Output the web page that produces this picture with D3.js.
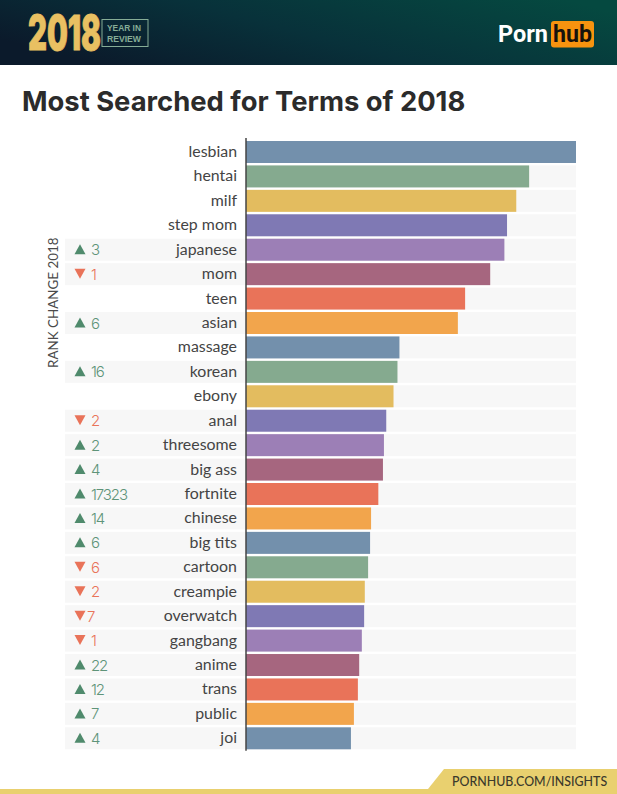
<!DOCTYPE html>
<html>
<head>
<meta charset="utf-8">
<script src="https://cdn.jsdelivr.net/npm/d3@7"></script>
<style>
html, body { margin: 0; padding: 0; background: white; }
svg { display: block; }
text { font-family: Lato, sans-serif; }
</style>
</head>
<body>
<svg id="chart"></svg>
<script>
const terms = ['lesbian', 'hentai', 'milf', 'step mom', 'japanese', 'mom', 'teen', 'asian', 'massage', 'korean', 'ebony', 'anal', 'threesome', 'big ass', 'fortnite', 'chinese', 'big tits', 'cartoon', 'creampie', 'overwatch', 'gangbang', 'anime', 'trans', 'public', 'joi'];
const searches = [100, 85.8, 81.9, 79.1, 78.3, 74, 66.4, 64.2, 46.5, 45.9, 44.7, 42.5, 41.8, 41.5, 40.1, 37.9, 37.6, 37, 36, 35.8, 35.1, 34.3, 33.9, 32.7, 31.8];
// positive = moved up, negative = moved down, 0 = no change shown
const rankChange = [0, 0, 0, 0, 3, -1, 0, 6, 0, 16, 0, -2, 2, 4, 17323, 14, 6, -6, -2, -7, -1, 22, 12, 7, 4];
const barColors = ['#7390ac', '#85aa8f', '#e3bc5f', '#7f79b4', '#9c7fb6', '#a6667f', '#e97359', '#f2a54c'];

const width = 617, height = 794;
const svg = d3.select('#chart').attr('width', width).attr('height', height);
const defs = svg.append('defs');

// squeeze a text to a given width with a transform, textLength leaves its box too wide
function fitWidth(sel, px, left, base) {
    const k = px / sel.node().getComputedTextLength();
    sel.attr('transform', 'translate(' + left + ',' + base + ') scale(' + k + ',1)');
}

// header
const grad = defs.append('linearGradient').attr('id', 'headerGrad')
    .attr('x1', '0%').attr('y1', '60%').attr('x2', '100%').attr('y2', '20%');
grad.append('stop').attr('offset', '0%').attr('stop-color', '#0b1a2b');
grad.append('stop').attr('offset', '45%').attr('stop-color', '#08313a');
grad.append('stop').attr('offset', '100%').attr('stop-color', '#054940');
svg.append('rect').attr('width', width).attr('height', 65).attr('fill', 'url(#headerGrad)');

svg.append('text').text('2018')
    .style('font-family', 'Inter').attr('font-size', 48).attr('font-weight', 900)
    .attr('fill', '#e9c062').attr('stroke', '#e9c062').attr('stroke-width', 0.8)
    .call(fitWidth, 73, 28, 50);
svg.append('rect').attr('x', 102).attr('y', 19.5).attr('width', 46).attr('height', 27)
    .attr('fill', 'none').attr('stroke', '#86ad96').attr('stroke-width', 1);
svg.selectAll('.yir').data(['YEAR IN', 'REVIEW']).join('text')
    .attr('class', 'yir').text(d => d)
    .style('font-family', '"Liberation Sans"')
    .attr('font-size', 9.8).attr('font-weight', 700).attr('fill', '#86ad96')
    .each(function (d, i) { d3.select(this).call(fitWidth, 34, 107, 31 + i * 11.3); });

svg.append('text').text('Porn')
    .style('font-family', 'Roboto').attr('font-size', 24).attr('font-weight', 700).attr('fill', 'white')
    .call(fitWidth, 50, 498, 42);
svg.append('rect').attr('x', 551).attr('y', 21).attr('width', 43).attr('height', 26.5).attr('rx', 3).attr('fill', '#f7930f');
svg.append('text').text('hub')
    .style('font-family', 'Roboto').attr('font-size', 24).attr('font-weight', 700).attr('fill', '#17120c')
    .call(fitWidth, 39, 553, 42);

// title
svg.append('text').text('Most Searched for Terms of 2018')
    .attr('x', 22).attr('y', 110.5)
    .style('font-family', 'Inter').attr('font-size', 27.4).attr('font-weight', 700).attr('fill', '#2b2b2b');

// chart
const x = d3.scaleLinear().domain([0, 100]).range([246, 576]);
const y = d3.scaleBand().domain(terms).range([141, 749.3]).paddingInner(0.1);
const rows = terms.map((t, i) => ({ term: t, value: searches[i], change: rankChange[i], color: barColors[i % barColors.length] }));

const row = svg.append('g').selectAll('g').data(rows).join('g');

// grey strip behind bar
row.append('rect')
    .attr('x', x(0)).attr('y', d => y(d.term))
    .attr('width', x(100) - x(0)).attr('height', y.bandwidth())
    .attr('fill', '#f7f7f7');
// grey strip on the left only where a rank change is shown
row.filter(d => d.change !== 0).append('rect')
    .attr('x', 65).attr('y', d => y(d.term))
    .attr('width', x(0) - 65).attr('height', y.bandwidth())
    .attr('fill', '#f7f7f7');
row.append('rect')
    .attr('x', x(0)).attr('y', d => y(d.term))
    .attr('width', d => x(d.value) - x(0)).attr('height', y.bandwidth())
    .attr('fill', d => d.color);
row.append('text')
    .attr('x', 237).attr('y', d => y(d.term) + y.bandwidth() / 2 + 5)
    .attr('text-anchor', 'end').attr('font-size', 15.9).attr('fill', '#444')
    .text(d => d.term);

// rank change arrow and number
const changed = row.filter(d => d.change !== 0);
const upColor = '#4f8a6c', downColor = '#e97359';
changed.append('path')
    .attr('d', d => d.change > 0 ? 'M0,-5.5L5.5,4.5L-5.5,4.5Z' : 'M0,4.5L5.5,-5.5L-5.5,-5.5Z')
    .attr('transform', d => 'translate(80,' + (y(d.term) + y.bandwidth() / 2) + ')')
    .attr('fill', d => d.change > 0 ? upColor : downColor);
changed.append('text')
    .attr('x', d => d.term === 'overwatch' ? 87 : 91)
    .attr('y', d => y(d.term) + y.bandwidth() / 2 + 5.5)
    .style('font-family', 'Inter').style('letter-spacing', '-1.1px')
    .attr('font-size', 15).attr('font-weight', 300).attr('fill', d => d.change > 0 ? '#5e9479' : downColor)
    .text(d => Math.abs(d.change));

// axis line
svg.append('line').attr('x1', 246).attr('x2', 246).attr('y1', 138).attr('y2', 750.7)
    .attr('stroke', '#444').attr('stroke-width', 1.5);

svg.append('text').text('RANK CHANGE 2018')
    .attr('transform', 'translate(57.5,368) rotate(-90)')
    .attr('font-size', 13.4).attr('fill', '#4a4a4a');

// footer
svg.append('rect').attr('x', 0).attr('y', 789).attr('width', width).attr('height', 5).attr('fill', '#e9d06f');
svg.append('path').attr('d', d3.line()([[428, 789], [444, 769], [617, 769], [617, 789]])).attr('fill', '#e9d06f');
svg.append('text').text('PORNHUB.COM/INSIGHTS')
    .attr('x', 452).attr('y', 786)
    .style('font-family', 'Lato').attr('font-size', 12.4).attr('font-weight', 500).attr('fill', '#3b3a2c');
</script>
</body>
</html>
